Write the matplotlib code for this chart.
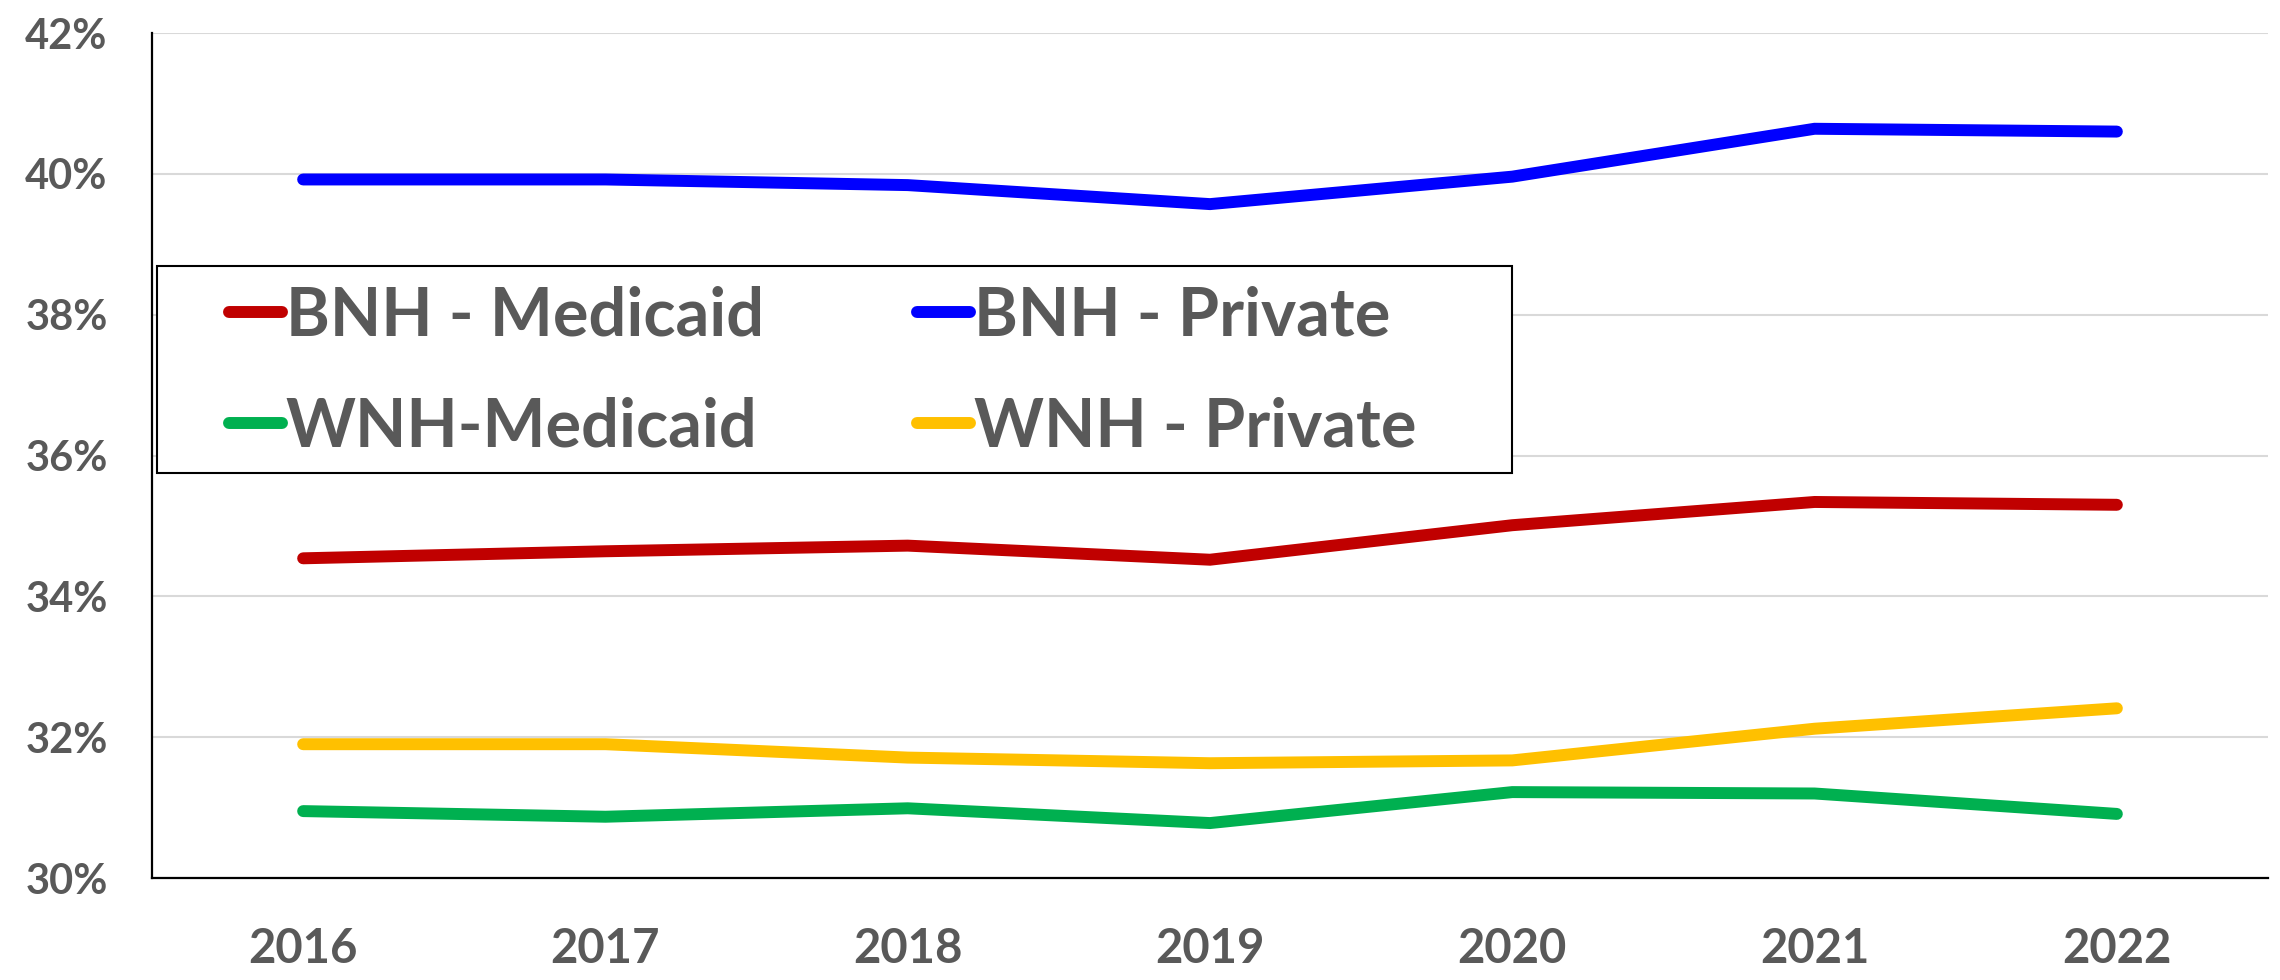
"""
Line chart: share by group and payer, 2016-2022
"""

import matplotlib.pyplot as plt
from matplotlib.patches import Rectangle
from matplotlib.ticker import FuncFormatter

plt.rcParams['font.family'] = ['Lato', 'DejaVu Sans']

years = ['2016', '2017', '2018', '2019', '2020', '2021', '2022']

bnh_medicaid = [34.54, 34.64, 34.72, 34.52, 35.01, 35.34, 35.30]
bnh_private = [39.92, 39.92, 39.84, 39.57, 39.96, 40.64, 40.60]
wnh_medicaid = [30.95, 30.87, 30.99, 30.78, 31.22, 31.20, 30.91]
wnh_private = [31.90, 31.90, 31.71, 31.63, 31.67, 32.12, 32.41]

labels = ['BNH - Medicaid', 'BNH - Private', 'WNH-Medicaid', 'WNH - Private']
colors = ['#C00000', '#0000FF', '#00B050', '#FFC000']
series = [bnh_medicaid, bnh_private, wnh_medicaid, wnh_private]

text_color = '#595959'
W, H = 2280, 980

fig = plt.figure(figsize=(W / 100, H / 100), dpi=100)
ax = fig.add_axes([152 / W, 1 - 878 / H, (2268 - 152) / W, (878 - 33) / H])

x = list(range(len(years)))
lines = []
for vals, lab, col in zip(series, labels, colors):
    ln, = ax.plot(x, vals, color=col, lw=8.6, label=lab,
                  solid_capstyle='round', solid_joinstyle='miter')
    lines.append(ln)

ax.set_xlim(-0.5, len(years) - 0.5)
ax.set_ylim(30, 42)
ax.set_yticks([30, 32, 34, 36, 38, 40, 42])
ax.yaxis.set_major_formatter(FuncFormatter(lambda v, p: f'{v:.0f}%'))
ax.set_xticks(x)
ax.set_xticklabels(years)

ax.grid(axis='y', color='#D9D9D9', lw=1.5)
ax.set_axisbelow(True)
for s in ['top', 'right']:
    ax.spines[s].set_visible(False)
for s in ['left', 'bottom']:
    ax.spines[s].set_color('black')
    ax.spines[s].set_linewidth(1.6)

ax.tick_params(axis='both', length=0, colors=text_color)
ax.tick_params(axis='y', labelsize=30, pad=32)
ax.tick_params(axis='x', labelsize=34, pad=35)
for t in ax.get_xticklabels() + ax.get_yticklabels():
    t.set_fontweight('bold')

# legend frame drawn separately so the inner padding can match
frame = Rectangle((157 / W, 1 - 473 / H), (1512 - 157) / W, (473 - 266) / H,
                  transform=fig.transFigure, facecolor='white',
                  edgecolor='black', lw=1.5, zorder=5)
fig.add_artist(frame)

# legend: filled column-wise, so reorder to get the rows right
order = [0, 2, 1, 3]
leg = fig.legend([lines[i] for i in order], [labels[i] for i in order],
                 loc='center left', bbox_to_anchor=(229 / W, 1 - 372 / H),
                 borderaxespad=0, borderpad=0, ncol=2, frameon=False,
                 handlelength=0.8, handletextpad=0.05,
                 columnspacing=2.3, labelspacing=0.74,
                 prop={'size': 48, 'weight': 'bold'})
leg.set_zorder(6)
for t in leg.get_texts():
    t.set_color(text_color)

fig.savefig('out.png', dpi=100)
